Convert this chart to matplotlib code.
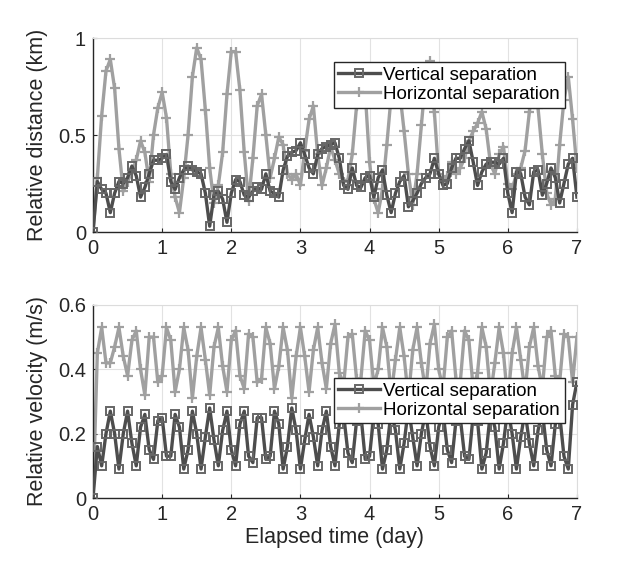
import numpy as np
import matplotlib
matplotlib.use("Agg")
import matplotlib.pyplot as plt

# sampling interval: 90 minutes, in days
dt = 1.5 / 24

# top panel: relative distance (km)
dist_vertical = [
    0.00, 0.26, 0.22, 0.20, 0.10, 0.20, 0.26, 0.25, 0.28, 0.34, 0.29, 0.18, 0.23, 0.30, 0.37, 0.37,
    0.38, 0.40, 0.26, 0.22, 0.28, 0.32, 0.34, 0.32, 0.31, 0.30, 0.20, 0.03, 0.19, 0.21, 0.17, 0.05,
    0.20, 0.27, 0.26, 0.19, 0.18, 0.21, 0.23, 0.22, 0.30, 0.21, 0.20, 0.18, 0.32, 0.39, 0.41, 0.42,
    0.46, 0.40, 0.33, 0.30, 0.40, 0.43, 0.44, 0.45, 0.46, 0.38, 0.24, 0.22, 0.33, 0.24, 0.23, 0.28,
    0.29, 0.18, 0.28, 0.32, 0.19, 0.10, 0.20, 0.26, 0.29, 0.13, 0.16, 0.20, 0.25, 0.28, 0.30, 0.38,
    0.30, 0.24, 0.25, 0.33, 0.38, 0.38, 0.43, 0.47, 0.36, 0.24, 0.31, 0.35, 0.36, 0.36, 0.35, 0.38,
    0.20, 0.10, 0.31, 0.30, 0.18, 0.14, 0.31, 0.32, 0.19, 0.25, 0.33, 0.28, 0.15, 0.25, 0.35, 0.38,
    0.18,
]
dist_horizontal = [
    0.00, 0.28, 0.60, 0.83, 0.89, 0.74, 0.43, 0.21, 0.26, 0.31, 0.37, 0.47, 0.41, 0.26, 0.50, 0.64,
    0.72, 0.59, 0.30, 0.18, 0.10, 0.28, 0.50, 0.80, 0.95, 0.89, 0.63, 0.33, 0.15, 0.24, 0.41, 0.71,
    0.93, 0.93, 0.73, 0.41, 0.16, 0.38, 0.65, 0.71, 0.50, 0.28, 0.38, 0.49, 0.45, 0.30, 0.27, 0.30,
    0.24, 0.42, 0.58, 0.65, 0.40, 0.24, 0.33, 0.44, 0.37, 0.30, 0.26, 0.27, 0.40, 0.65, 0.85, 0.72,
    0.36, 0.17, 0.10, 0.22, 0.45, 0.70, 0.85, 0.72, 0.52, 0.30, 0.14, 0.30, 0.55, 0.80, 0.88, 0.62,
    0.30, 0.26, 0.29, 0.36, 0.30, 0.33, 0.38, 0.47, 0.52, 0.56, 0.62, 0.53, 0.35, 0.30, 0.40, 0.44,
    0.25, 0.22, 0.30, 0.33, 0.42, 0.62, 0.80, 0.64, 0.40, 0.20, 0.14, 0.17, 0.45, 0.68, 0.80, 0.58,
    0.33,
]

# bottom panel: relative velocity (m/s)
vel_vertical = [
    0.00, 0.16, 0.10, 0.20, 0.27, 0.20, 0.09, 0.20, 0.27, 0.17, 0.10, 0.22, 0.26, 0.15, 0.12, 0.24,
    0.25, 0.13, 0.13, 0.26, 0.22, 0.09, 0.15, 0.27, 0.20, 0.09, 0.19, 0.28, 0.18, 0.10, 0.21, 0.27,
    0.15, 0.10, 0.23, 0.27, 0.13, 0.11, 0.25, 0.25, 0.12, 0.13, 0.27, 0.23, 0.09, 0.16, 0.28, 0.21,
    0.09, 0.18, 0.26, 0.19, 0.10, 0.21, 0.27, 0.16, 0.10, 0.23, 0.26, 0.14, 0.11, 0.24, 0.26, 0.12,
    0.13, 0.26, 0.23, 0.09, 0.15, 0.27, 0.21, 0.09, 0.17, 0.28, 0.19, 0.10, 0.20, 0.27, 0.16, 0.10,
    0.22, 0.27, 0.15, 0.11, 0.24, 0.25, 0.13, 0.12, 0.26, 0.24, 0.09, 0.14, 0.27, 0.22, 0.09, 0.17,
    0.28, 0.20, 0.09, 0.19, 0.27, 0.17, 0.10, 0.21, 0.27, 0.15, 0.10, 0.23, 0.26, 0.13, 0.09, 0.29,
    0.36,
]
vel_horizontal = [
    0.00, 0.45, 0.53, 0.42, 0.42, 0.47, 0.53, 0.44, 0.38, 0.49, 0.52, 0.40, 0.32, 0.50, 0.50, 0.36,
    0.38, 0.53, 0.49, 0.33, 0.40, 0.53, 0.46, 0.31, 0.44, 0.53, 0.43, 0.32, 0.47, 0.53, 0.41, 0.33,
    0.49, 0.52, 0.38, 0.34, 0.51, 0.50, 0.36, 0.37, 0.53, 0.48, 0.34, 0.41, 0.53, 0.46, 0.31, 0.44,
    0.53, 0.44, 0.33, 0.46, 0.53, 0.42, 0.34, 0.48, 0.54, 0.39, 0.35, 0.50, 0.51, 0.37, 0.37, 0.52,
    0.49, 0.35, 0.40, 0.53, 0.47, 0.32, 0.43, 0.53, 0.44, 0.31, 0.46, 0.53, 0.42, 0.33, 0.48, 0.54,
    0.40, 0.34, 0.50, 0.52, 0.37, 0.36, 0.52, 0.49, 0.34, 0.39, 0.53, 0.47, 0.32, 0.42, 0.53, 0.45,
    0.30, 0.45, 0.53, 0.43, 0.33, 0.47, 0.53, 0.41, 0.34, 0.50, 0.52, 0.38, 0.36, 0.51, 0.50, 0.36,
    0.50,
]

labels = ['Vertical separation', 'Horizontal separation']
dark = '#4d4d4d'
light = '#a0a0a0'

plt.rcParams['font.family'] = ['Liberation Sans', 'DejaVu Sans']

fig = plt.figure(figsize=(6.26, 5.75), dpi=100)
ax1 = fig.add_axes([0.1486, 0.5965, 0.773, 0.3374])
ax2 = fig.add_axes([0.1486, 0.1339, 0.773, 0.3357])


def draw(ax, vert, horiz, ylim, yticks, yticklabels, ylabel, legend_anchor):
    t = np.arange(len(vert)) * dt
    ax.plot(t, vert, color=dark, lw=2.4, marker='s', ms=6, mfc='none',
            mec='#666666', mew=1.4, label=labels[0], zorder=3)
    ax.plot(np.arange(len(horiz)) * dt, horiz, color=light, lw=2.4, marker='+',
            ms=7.5, mew=1.6, label=labels[1], zorder=2)
    ax.set_xlim(0, 7)
    ax.set_ylim(*ylim)
    ax.set_xticks(range(8))
    ax.set_yticks(yticks)
    ax.set_yticklabels(yticklabels)
    ax.set_ylabel(ylabel, fontsize=15.5, color='#262626', labelpad=7)
    ax.grid(True, color='#e2e2e2', lw=0.8)
    ax.set_axisbelow(True)
    for side in ['top', 'right']:
        ax.spines[side].set_color('#dcdcdc')
    for side in ['left', 'bottom']:
        ax.spines[side].set_color('#262626')
        ax.spines[side].set_linewidth(1.0)
    ax.tick_params(direction='in', length=3, labelsize=14.5, colors='#262626',
                   top=False, right=False, pad=5)
    leg = ax.legend(loc='upper right', bbox_to_anchor=legend_anchor, borderaxespad=0,
                    fontsize=13.5, fancybox=False, framealpha=1, edgecolor='#262626',
                    handlelength=2.2, handletextpad=0.2, labelspacing=0.1,
                    borderpad=0.25)
    leg.get_frame().set_linewidth(1.0)


draw(ax1, dist_vertical, dist_horizontal, (0, 1), [0, 0.5, 1], ['0', '0.5', '1'],
     'Relative distance (km)', (0.975, 0.876))
draw(ax2, vel_vertical, vel_horizontal, (0, 0.6), [0, 0.2, 0.4, 0.6],
     ['0', '0.2', '0.4', '0.6'], 'Relative velocity (m/s)', (0.975, 0.622))
ax2.set_xlabel('Elapsed time (day)', fontsize=15.5, color='#262626', labelpad=2)

fig.savefig('out.png', dpi=100, facecolor='white')
